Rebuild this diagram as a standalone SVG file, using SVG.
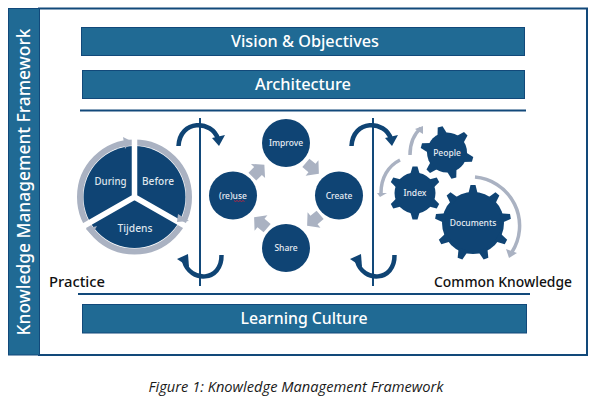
<svg xmlns="http://www.w3.org/2000/svg" width="599" height="405" viewBox="0 0 599 405">
<style>
text{font-family:"Noto Sans","DejaVu Sans",sans-serif;text-anchor:middle}
.bar{fill:#206a94;stroke:#12497a;stroke-width:1}
.bt{fill:#fff;font-size:16px;font-weight:500}
.rule{stroke:#12497a;stroke-width:2;fill:none}
.n{fill:#0f4474}
.nt{fill:#e8edf3;font-size:8.500px;font-weight:500}
.pt{fill:#dfe5ec;font-size:11px;font-weight:500}
.blue{fill:none;stroke:#0f4474;stroke-width:4.500}
.gray{fill:none;stroke:#aab2c2;stroke-width:3.500}
.gh{fill:#aab2c2}
.lab{fill:#111;font-size:13.500px;font-weight:500}
</style>
<defs>
<polygon id="block" points="-8,-5.500 0,-5.500 0,-10 9,0 0,10 0,5.500 -8,5.500" fill="#aab2c2"/>
<polygon id="t6" points="-5,-18 -2.500,-26.500 2.500,-26.500 5,-18" fill="#0f4474"/>
<polygon id="t9" points="-5,-28 -2.500,-38 2.500,-38 5,-28" fill="#0f4474"/>
<g id="curveT">
<path class="blue" d="M178.500 146C180 119 212 120 218 139"/>
<polygon points="212,138 225,135 219,146" fill="#0f4474"/>
</g>
<g id="curveB">
<path class="blue" d="M221.500 255C222 282 190 283 184 261"/>
<polygon points="177,259 188,254 189,267" fill="#0f4474"/>
</g>
</defs>
<g id="frame">
<rect x="39" y="8.500" width="548" height="346.500" fill="#fff" stroke="#12497a" stroke-width="2"/>
<rect x="8.500" y="8.500" width="31" height="346.500" fill="#206a94" stroke="#12497a" stroke-width="1"/>
<text transform="translate(29.500 182) rotate(-90)" fill="#fff" font-size="18" font-weight="500" textLength="307" lengthAdjust="spacingAndGlyphs">Knowledge Management Framework</text>
</g>
<g id="vision"><rect class="bar" x="81.500" y="27.500" width="443" height="28"/><text class="bt" x="305" y="47" textLength="148" lengthAdjust="spacingAndGlyphs">Vision &amp; Objectives</text></g>
<g id="architecture"><rect class="bar" x="82.500" y="70.500" width="442" height="28"/><text class="bt" x="303" y="90" textLength="96" lengthAdjust="spacingAndGlyphs">Architecture</text></g>
<g id="learning"><rect class="bar" x="82.500" y="304.500" width="444" height="28.500"/><text class="bt" x="304" y="324" textLength="127" lengthAdjust="spacingAndGlyphs">Learning Culture</text></g>
<g id="connectors">
<path class="rule" d="M80 110.500H526M78 294H530"/>
<path class="rule" d="M200 118V286M373 118V286"/>
<use href="#curveT"/><use href="#curveB"/>
<use href="#curveT" x="173"/><use href="#curveB" x="173"/>
<use href="#block" transform="translate(258 171) rotate(-45)"/>
<use href="#block" transform="translate(312 168) rotate(40)"/>
<use href="#block" transform="translate(314 220) rotate(140)"/>
<use href="#block" transform="translate(261 223) rotate(-140)"/>
<path class="gray" d="M475 177A49 49 0 0 1 512 252"/>
<polygon class="gh" points="506,249 517,253 509,258"/>
<path class="gray" d="M400 160C388 166 381 178 381 193"/>
<polygon class="gh" points="377,193 387,193 380,197"/>
<path class="gray" d="M410 155C410 143 414 134 421 128"/>
<polygon class="gh" points="415,129 423,126 423,134"/>
</g>
<g id="cycle">
<circle cx="134.500" cy="197" r="54.500" fill="none" stroke="#aab2c2" stroke-width="6"/>
<circle class="n" cx="134.500" cy="197" r="51"/>
<path d="M134.500 197V135M134.500 197L187 227M134.500 197L82 227" stroke="#fff" stroke-width="5.500" fill="none"/>
<polygon class="gh" points="123,137 131,141 125,149"/>
<polygon class="gh" points="178,214 189,221 177,222"/>
<polygon class="gh" points="86,229 97,226 92,235"/>
<text class="pt" x="110.500" y="185" textLength="32" lengthAdjust="spacingAndGlyphs">During</text>
<text class="pt" x="158" y="185" textLength="32" lengthAdjust="spacingAndGlyphs">Before</text>
<text class="pt" x="135" y="232" textLength="35" lengthAdjust="spacingAndGlyphs">Tijdens</text>
</g>
<g id="improve"><circle class="n" cx="286" cy="143" r="24"/><text class="nt" x="286" y="146">Improve</text></g>
<g id="create"><circle class="n" cx="339" cy="195.500" r="24"/><text class="nt" x="339" y="199">Create</text></g>
<g id="share"><circle class="n" cx="286" cy="248" r="24"/><text class="nt" x="286" y="251">Share</text></g>
<g id="reuse"><circle class="n" cx="233" cy="195.500" r="24"/><text class="nt" x="233" y="199">(re)use</text><path d="M234 200.500l1.500 1 1.500-1 1.500 1 1.500-1 1.500 1 1.500-1 1.500 1" fill="none" stroke="#d3223c" stroke-width="0.800"/></g>
<g id="people">
<circle class="n" cx="447" cy="152.500" r="20"/>
<g transform="translate(447 152.500) rotate(-15)"><use href="#t6"/><use href="#t6" transform="rotate(60)"/><use href="#t6" transform="rotate(120)"/><use href="#t6" transform="rotate(180)"/><use href="#t6" transform="rotate(240)"/><use href="#t6" transform="rotate(300)"/></g>
<text class="nt" x="447" y="155.500">People</text>
</g>
<g id="index">
<circle class="n" cx="415" cy="193" r="20.500"/>
<g transform="translate(415 193)"><use href="#t6"/><use href="#t6" transform="rotate(60)"/><use href="#t6" transform="rotate(120)"/><use href="#t6" transform="rotate(180)"/><use href="#t6" transform="rotate(240)"/><use href="#t6" transform="rotate(300)"/></g>
<text class="nt" x="415" y="196">Index</text>
</g>
<g id="documents">
<circle class="n" cx="473" cy="223" r="31"/>
<g transform="translate(473 223)"><use href="#t9"/><use href="#t9" transform="rotate(40)"/><use href="#t9" transform="rotate(80)"/><use href="#t9" transform="rotate(120)"/><use href="#t9" transform="rotate(160)"/><use href="#t9" transform="rotate(200)"/><use href="#t9" transform="rotate(240)"/><use href="#t9" transform="rotate(280)"/><use href="#t9" transform="rotate(320)"/></g>
<text class="nt" x="473" y="226">Documents</text>
</g>
<text class="lab" x="77" y="287" textLength="56" lengthAdjust="spacingAndGlyphs">Practice</text>
<text class="lab" x="503" y="287" textLength="138" lengthAdjust="spacingAndGlyphs">Common Knowledge</text>
<text x="296" y="392" fill="#1a1a1a" font-size="14px" font-style="italic" style="font-family:'Open Sans',sans-serif" textLength="295" lengthAdjust="spacingAndGlyphs">Figure 1: Knowledge Management Framework</text>
</svg>
